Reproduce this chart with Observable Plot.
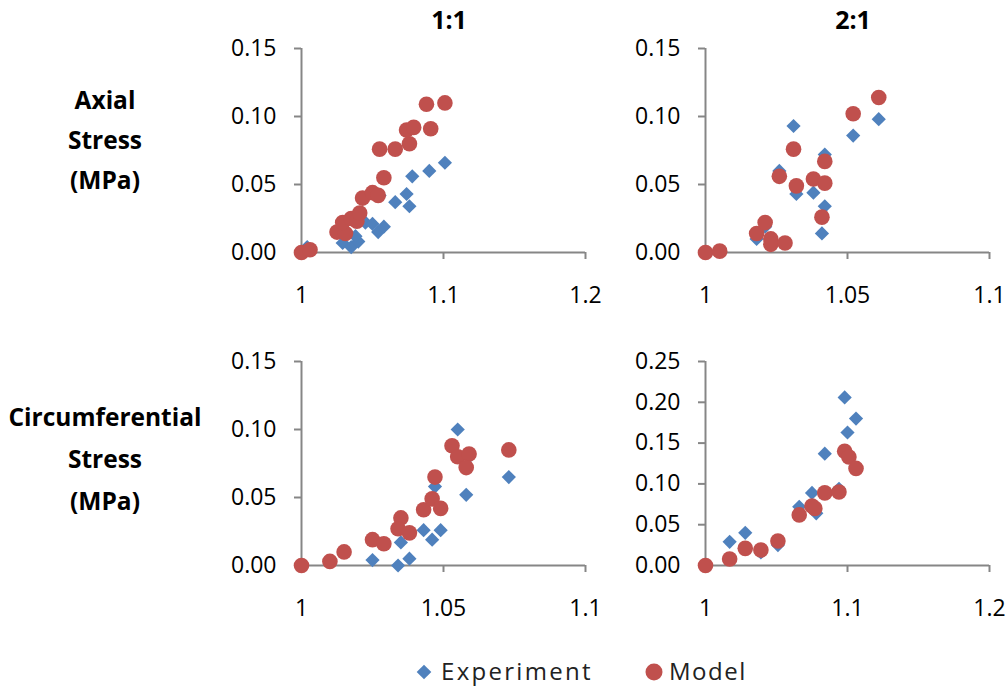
<!DOCTYPE html>
<html>
<head>
<meta charset="utf-8">
<script src="https://cdn.jsdelivr.net/npm/d3@7"></script>
<script src="https://cdn.jsdelivr.net/npm/@observablehq/plot@0.6"></script>
<style>
  body { margin: 0; background: #fff; }
  #wrap { position: relative; width: 1008px; height: 689px; font-family: "Open Sans", sans-serif; color: #000; }
  .panel { position: absolute; }
  .rowlab { position: absolute; left: 0; width: 210px; text-align: center; font-weight: bold; font-size: 24.5px; }
  .coltitle { position: absolute; width: 100px; text-align: center; font-weight: bold; font-size: 25px; line-height: 30px; }
  #legend { position: absolute; left: 0; top: 650px; }
</style>
</head>
<body>
<div id="wrap"></div>
<script>
// ---- data ----
const columns = ["1:1", "2:1"];
const rows = [["Axial", "Stress", "(MPa)"], ["Circumferential", "Stress", "(MPa)"]];
const seriesNames = ["Experiment", "Model"];

const axial11Experiment = [[1.004,0.004],[1.029,0.007],[1.035,0.004],[1.040,0.008],[1.038,0.012],[1.045,0.022],[1.050,0.021],[1.054,0.015],[1.058,0.019],[1.055,0.042],[1.066,0.037],[1.074,0.043],[1.076,0.034],[1.078,0.056],[1.090,0.060],[1.101,0.066]];
const axial11Model = [[1.000,0.000],[1.006,0.002],[1.025,0.015],[1.031,0.014],[1.029,0.022],[1.035,0.025],[1.039,0.023],[1.041,0.029],[1.043,0.040],[1.050,0.044],[1.054,0.042],[1.058,0.055],[1.055,0.076],[1.066,0.076],[1.076,0.080],[1.074,0.090],[1.079,0.092],[1.091,0.091],[1.088,0.109],[1.101,0.110]];

const axial21Experiment = [[1.018,0.010],[1.021,0.019],[1.026,0.060],[1.031,0.093],[1.032,0.043],[1.038,0.044],[1.042,0.072],[1.042,0.034],[1.041,0.014],[1.052,0.086],[1.061,0.098]];
const axial21Model = [[1.000,0.000],[1.005,0.001],[1.018,0.014],[1.021,0.022],[1.023,0.010],[1.023,0.006],[1.028,0.007],[1.026,0.056],[1.031,0.076],[1.032,0.049],[1.038,0.054],[1.042,0.051],[1.042,0.067],[1.041,0.026],[1.052,0.102],[1.061,0.114]];

const circ11Experiment = [[1.025,0.004],[1.034,0.000],[1.038,0.005],[1.035,0.017],[1.043,0.026],[1.046,0.019],[1.049,0.026],[1.047,0.058],[1.055,0.100],[1.059,0.080],[1.058,0.052],[1.073,0.065]];
const circ11Model = [[1.000,0.000],[1.010,0.003],[1.015,0.010],[1.025,0.019],[1.029,0.016],[1.035,0.035],[1.034,0.027],[1.038,0.024],[1.043,0.041],[1.046,0.049],[1.049,0.042],[1.047,0.065],[1.053,0.088],[1.055,0.080],[1.059,0.082],[1.058,0.072],[1.073,0.085]];

const circ21Experiment = [[1.017,0.029],[1.028,0.040],[1.039,0.016],[1.051,0.025],[1.066,0.072],[1.075,0.089],[1.078,0.064],[1.084,0.137],[1.094,0.094],[1.098,0.206],[1.100,0.163],[1.106,0.180]];
const circ21Model = [[1.000,0.000],[1.017,0.008],[1.028,0.021],[1.039,0.019],[1.051,0.030],[1.066,0.062],[1.075,0.073],[1.077,0.070],[1.084,0.089],[1.094,0.090],[1.098,0.140],[1.101,0.133],[1.106,0.119]];

const xTicksA = [1, 1.1, 1.2];
const xTicksB = [1, 1.05, 1.1];
const yTicksA = [0, 0.05, 0.10, 0.15];
const yTicksB = [0, 0.05, 0.10, 0.15, 0.20, 0.25];

// ---- styling ----
const blue = "#4F81BD", red = "#C0504D", axisGray = "#868686";
const wrap = document.getElementById("wrap");

const panels = [
  {exp: axial11Experiment, mod: axial11Model, xt: xTicksA, yt: yTicksA, left: 200, top: 30},
  {exp: axial21Experiment, mod: axial21Model, xt: xTicksB, yt: yTicksA, left: 604, top: 30},
  {exp: circ11Experiment,  mod: circ11Model,  xt: xTicksB, yt: yTicksA, left: 200, top: 343},
  {exp: circ21Experiment,  mod: circ21Model,  xt: xTicksA, yt: yTicksB, left: 604, top: 343}
];

for (const p of panels) {
  const xd = [p.xt[0], p.xt[p.xt.length - 1]];
  const yd = [p.yt[0], p.yt[p.yt.length - 1]];
  const chart = Plot.plot({
    width: 400, height: 290,
    marginLeft: 101, marginRight: 15, marginTop: 18, marginBottom: 68,
    style: {fontFamily: "'Open Sans', sans-serif", fontSize: "23px", background: "transparent", overflow: "visible"},
    x: {domain: xd, ticks: p.xt, tickFormat: d => String(d), label: null},
    y: {domain: yd, ticks: p.yt, tickFormat: d3.format(".2f"), label: null},
    marks: [
      Plot.axisX({ticks: p.xt, tickFormat: d => String(d), tickSize: 7, tickPadding: 27, stroke: axisGray, strokeWidth: 2, fill: "#000", label: null, fontSize: 23}),
      Plot.axisY({ticks: p.yt, tickFormat: d3.format(".2f"), tickSize: 7, tickPadding: 18, stroke: axisGray, strokeWidth: 2, fill: "#000", label: null, fontSize: 23}),
      Plot.ruleX([xd[0]], {stroke: axisGray, strokeWidth: 2}),
      Plot.ruleY([yd[0]], {stroke: axisGray, strokeWidth: 2}),
      Plot.dot(p.exp, {x: d => d[0], y: d => d[1], symbol: "diamond2", r: 6.4, fill: blue, stroke: "none"}),
      Plot.dot(p.mod, {x: d => d[0], y: d => d[1], symbol: "circle", r: 7.8, fill: red, stroke: "none"})
    ]
  });
  chart.classList.add("panel");
  chart.style.left = p.left + "px";
  chart.style.top = p.top + "px";
  wrap.appendChild(chart);
}

// column titles
[[449, columns[0]], [853, columns[1]]].forEach(([cx, t]) => {
  const d = document.createElement("div");
  d.className = "coltitle";
  d.style.left = (cx - 50) + "px";
  d.style.top = "4px";
  d.textContent = t;
  wrap.appendChild(d);
});

// row labels
[[80, 40, rows[0]], [396, 42, rows[1]]].forEach(([top, lh, lines]) => {
  const d = document.createElement("div");
  d.className = "rowlab";
  d.style.top = top + "px";
  d.style.lineHeight = lh + "px";
  d.innerHTML = lines.join("<br>");
  wrap.appendChild(d);
});

// legend
const NS = "http://www.w3.org/2000/svg";
const lg = document.createElementNS(NS, "svg");
lg.setAttribute("width", 1008); lg.setAttribute("height", 39);
lg.setAttribute("id", "legend");
const items = [
  {name: seriesNames[0], cx: 424, sym: d3.symbol(d3.symbolDiamond2, Math.PI * 6.6 * 6.6)(), color: blue, tx: 441, ls: "2.3"},
  {name: seriesNames[1], cx: 654, sym: d3.symbol(d3.symbolCircle, Math.PI * 8.5 * 8.5)(), color: red, tx: 669, ls: "1.5"}
];
for (const it of items) {
  const path = document.createElementNS(NS, "path");
  path.setAttribute("d", it.sym);
  path.setAttribute("transform", `translate(${it.cx},22)`);
  path.setAttribute("fill", it.color);
  lg.appendChild(path);
  const t = document.createElementNS(NS, "text");
  t.setAttribute("x", it.tx); t.setAttribute("y", 22);
  t.setAttribute("dy", "0.35em");
  t.setAttribute("font-family", "'Open Sans', sans-serif");
  t.setAttribute("font-size", "24");
  t.setAttribute("letter-spacing", it.ls);
  t.setAttribute("fill", "#222");
  t.textContent = it.name;
  lg.appendChild(t);
}
wrap.appendChild(lg);
</script>
</body>
</html>
